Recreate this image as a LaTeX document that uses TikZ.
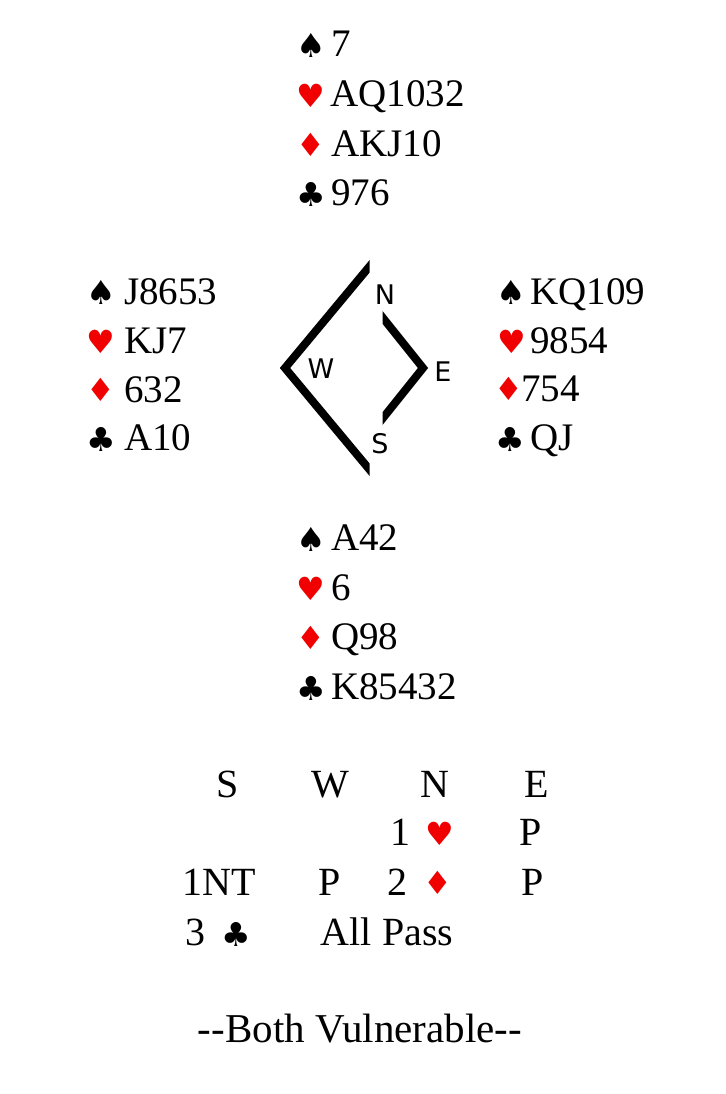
\documentclass[tikz,border=0pt]{standalone}
\usepackage{fontspec}
\setmainfont{Liberation Serif}
\newfontfamily\symfont{DejaVu Sans}
\newfontfamily\compfont{DejaVu Sans}
\definecolor{suitred}{RGB}{240,0,0}
\tikzset{
  card/.style={font=\fontsize{39}{39}\selectfont, anchor=base west, inner sep=0pt},
  bid/.style={font=\fontsize{40}{40}\selectfont, anchor=base, inner sep=0pt},
  blksuit/.style={font=\symfont\fontsize{33}{33}\selectfont, inner sep=0pt, text=black},
  redsuit/.style={font=\symfont\fontsize{32}{32}\selectfont, inner sep=0pt, text=suitred},
  compass/.style={line width=8pt, line join=miter},
  complabel/.style={font=\compfont\fontsize{27}{27}\selectfont, inner sep=0pt}
}
\begin{document}
\begin{tikzpicture}[x=1pt,y=-1pt]
\useasboundingbox (0,0) rectangle (725,1094);
\fill[white] (0,0) rectangle (725,1094);

% North
\node[blksuit] (ns) at (311,45) {♠};
\node[redsuit] (nh) at (311,96) {♥};
\node[redsuit] (nd) at (311,145) {♦};
\node[blksuit] (nc) at (311,194) {♣};
\node[card] (nst) at (331,57) {7};
\node[card] (nht) at (330,107) {AQ1032};
\node[card] (ndt) at (331,157) {AKJ10};
\node[card] (nct) at (331,205) {976};

% West
\node[blksuit] (ws) at (101,292) {♠};
\node[redsuit] (wh) at (101,342) {♥};
\node[redsuit] (wd) at (101,390) {♦};
\node[blksuit] (wc) at (101,439) {♣};
\node[card] (wst) at (124,304) {J8653};
\node[card] (wht) at (124,353) {KJ7};
\node[card] (wdt) at (124,402) {632};
\node[card] (wct) at (124,450) {A10};

% East
\node[blksuit] (es) at (511,292) {♠};
\node[redsuit] (eh) at (512,342) {♥};
\node[redsuit] (ed) at (509,389) {♦};
\node[blksuit] (ec) at (510,439) {♣};
\node[card] (est) at (530,304) {KQ109};
\node[card] (eht) at (530,353) {9854};
\node[card] (edt) at (521,401) {754};
\node[card] (ect) at (530,450) {QJ};

% South
\node[blksuit] (ss) at (311,539) {♠};
\node[redsuit] (sh) at (311,589) {♥};
\node[redsuit] (sd) at (311,638) {♦};
\node[blksuit] (sc) at (311,688) {♣};
\node[card] (sst) at (331,550) {A42};
\node[card] (sht) at (331,600) {6};
\node[card] (sdt) at (331,649) {Q98};
\node[card] (sct) at (331,699) {K85432};

% Compass
\coordinate (la) at (377.4,256.9);
\coordinate (lw) at (285,368);
\coordinate (lb) at (377.4,479.1);
\coordinate (ra) at (375,308);
\coordinate (re) at (423,368);
\coordinate (rb) at (375,428);
\begin{scope}
  \clip (0,0) rectangle (369.5,1094);
  \draw[compass] (la) -- (lw) -- (lb);
\end{scope}
\begin{scope}
  \clip (382.5,0) rectangle (725,1094);
  \draw[compass] (ra) -- (re) -- (rb);
\end{scope}
\node[complabel] (cn) at (385,295) {N};
\node[complabel] (cw) at (321,369) {W};
\node[complabel] (ce) at (443,372) {E};
\node[complabel] (cs) at (380,444) {S};

% Bidding
\node[bid] (hS) at (228,797) {S};
\node[bid] (hW) at (330,797) {W};
\node[bid] (hN) at (435,797) {N};
\node[bid] (hE) at (537,797) {E};

\node[bid] (b1) at (400,845) {1};
\node[redsuit] (b1s) at (440,834) {♥};
\node[bid] (b1e) at (531,845) {P};

\node[bid] (b2s) at (219,895) {1NT};
\node[bid] (b2w) at (330,895) {P};
\node[bid] (b2n) at (397,895) {2};
\node[redsuit] (b2d) at (438,883) {♦};
\node[bid] (b2e) at (533,895) {P};

\node[bid] (b3) at (195,945) {3};
\node[blksuit] (b3c) at (236,934) {♣};
\node[bid] (b3p) at (387,945) {All Pass};

% Vulnerability
\node[bid, font=\fontsize{41}{41}\selectfont] (vul) at (360,1042) {-{}-Both Vulnerable-{}-};
\end{tikzpicture}
\end{document}
